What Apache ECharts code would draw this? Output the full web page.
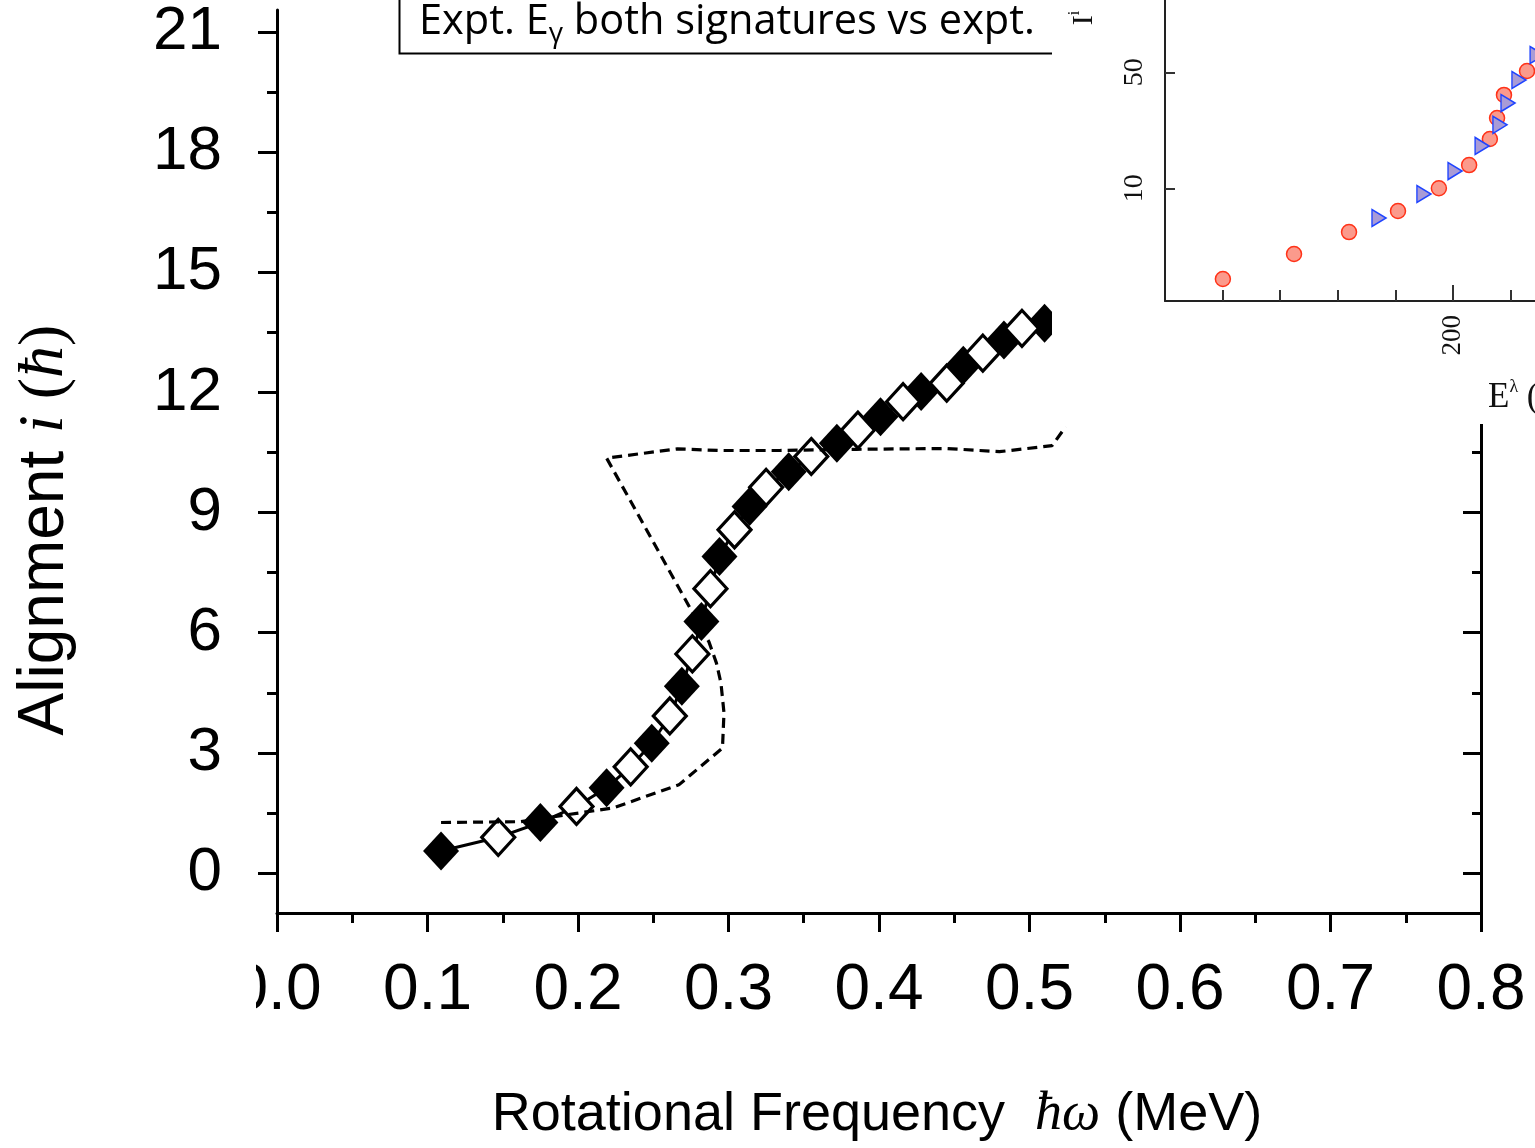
<!DOCTYPE html>
<html>
<head>
<meta charset="utf-8">
<script src="https://cdn.jsdelivr.net/npm/echarts@6/dist/echarts.min.js"></script>
<style>
html, body { margin: 0; padding: 0; background: #fff; }
#main { width: 1535px; height: 1148px; }
</style>
</head>
<body>
<div id="main"></div>
<script>
// alignment vs rotational frequency, filled diamonds (one signature)
let sigFilled = [
    [0.109, 0.55], [0.175, 1.26], [0.219, 2.13], [0.249, 3.24], [0.269, 4.66],
    [0.282, 6.28], [0.294, 7.90], [0.314, 9.15], [0.340, 10.02], [0.372, 10.73],
    [0.401, 11.39], [0.428, 12.02], [0.456, 12.68], [0.483, 13.31], [0.510, 13.73]
];
// open diamonds (other signature)
let sigOpen = [
    [0.147, 0.89], [0.199, 1.66], [0.235, 2.65], [0.261, 3.92], [0.276, 5.47],
    [0.288, 7.10], [0.304, 8.57], [0.325, 9.63], [0.355, 10.40], [0.386, 11.06],
    [0.416, 11.77], [0.445, 12.23], [0.469, 12.98], [0.495, 13.60]
];
// dashed curve
let theory = [
    [0.109, 1.26], [0.162, 1.28], [0.201, 1.50], [0.223, 1.62], [0.267, 2.20],
    [0.296, 3.12], [0.297, 4.00], [0.295, 4.74], [0.292, 5.24], [0.287, 5.77],
    [0.219, 10.36], [0.266, 10.59], [0.294, 10.55], [0.334, 10.55], [0.385, 10.58],
    [0.445, 10.60], [0.480, 10.52], [0.515, 10.67], [0.524, 11.14]
];
// inset points
let insetCircles = [
    [120.1, 2.84], [144.8, 4.02], [163.9, 5.45], [180.9, 7.30], [195.1, 10.0],
    [205.6, 13.8], [212.8, 19.8], [215.3, 26.5], [217.7, 36.5], [225.7, 50.9]
];
let insetTriangles = [
    [174.3, 6.62], [189.9, 9.24], [200.7, 12.7], [210.1, 18.0], [216.3, 24.1],
    [219.1, 32.6], [222.9, 44.9], [229.2, 63.5]
];

let yMajor = [0, 3, 6, 9, 12, 15, 18, 21];
let yMinor = [1.5, 4.5, 7.5, 10.5, 13.5, 16.5, 19.5];
let insetXMinor = [120, 140, 160, 180, 220];
let insetXMajor = [200];
let insetYTicks = [10, 50];

// solid line joins both signatures in order of frequency
let allExpt = sigFilled.concat(sigOpen).sort(function (a, b) { return a[0] - b[0]; });

let sans = 'Liberation Sans';
let serif = 'Liberation Serif';

let insetYMin = 2.094, insetYMax = 545.4;
let insetXMax = 100 + 400 / 2.88;

let option = {
    animation: false,
    backgroundColor: '#fff',
    grid: [
        { left: 277, top: 10, width: 1204, height: 903, outerBoundsMode: 'none', containLabel: false },
        { left: 1165, top: -100, width: 400, height: 401, outerBoundsMode: 'none', containLabel: false }
    ],
    xAxis: [
        {
            gridIndex: 0, type: 'value', min: 0, max: 0.8, interval: 0.1, position: 'bottom',
            axisLine: { onZero: false, lineStyle: { color: '#000', width: 3 } },
            axisTick: { length: 19, lineStyle: { color: '#000', width: 3 } },
            minorTick: { show: true, splitNumber: 2, length: 10, lineStyle: { color: '#000', width: 3 } },
            splitLine: { show: false },
            axisLabel: {
                fontFamily: sans, fontSize: 64, color: '#000', margin: 46,
                formatter: function (v) { return v.toFixed(1); }
            }
        },
        {
            gridIndex: 1, type: 'value', min: 100, max: insetXMax, position: 'bottom', z: 30,
            axisLine: { onZero: false, lineStyle: { color: '#222', width: 2 } },
            axisTick: { inside: true, length: 11, customValues: insetXMinor, lineStyle: { color: '#333', width: 2 } },
            axisLabel: { show: false },
            splitLine: { show: false }
        },
        {
            gridIndex: 1, type: 'value', min: 100, max: insetXMax, position: 'bottom', z: 30,
            axisLine: { show: false, onZero: false },
            axisTick: { inside: true, length: 16, customValues: insetXMajor, lineStyle: { color: '#333', width: 2 } },
            axisLabel: {
                customValues: insetXMajor, rotate: 90, margin: 14,
                fontFamily: serif, fontSize: 27, color: '#111'
            },
            splitLine: { show: false }
        }
    ],
    yAxis: [
        {
            gridIndex: 0, type: 'value', min: -1, max: 21.55, position: 'left',
            axisLine: { onZero: false, lineStyle: { color: '#000', width: 3 } },
            axisTick: { length: 19, customValues: yMajor, lineStyle: { color: '#000', width: 3 } },
            axisLabel: { customValues: yMajor, fontFamily: sans, fontSize: 62, color: '#000', margin: 55 },
            splitLine: { show: false }
        },
        {
            gridIndex: 0, type: 'value', min: -1, max: 21.55, position: 'left',
            axisLine: { show: false, onZero: false },
            axisTick: { length: 10, customValues: yMinor, lineStyle: { color: '#000', width: 3 } },
            axisLabel: { show: false },
            splitLine: { show: false }
        },
        {
            gridIndex: 0, type: 'value', min: -1, max: 21.55, position: 'right',
            axisLine: { onZero: false, lineStyle: { color: '#000', width: 3 } },
            axisTick: { inside: true, length: 18, customValues: yMajor, lineStyle: { color: '#000', width: 3 } },
            axisLabel: { show: false },
            splitLine: { show: false }
        },
        {
            gridIndex: 0, type: 'value', min: -1, max: 21.55, position: 'right',
            axisLine: { show: false, onZero: false },
            axisTick: { inside: true, length: 9, customValues: yMinor, lineStyle: { color: '#000', width: 3 } },
            axisLabel: { show: false },
            splitLine: { show: false }
        },
        {
            gridIndex: 1, type: 'log', min: insetYMin, max: insetYMax, position: 'left', z: 30,
            axisLine: { onZero: false, lineStyle: { color: '#222', width: 2 } },
            axisTick: { show: false },
            axisLabel: { show: false },
            splitLine: { show: false }
        },
        {
            // tick/label axis of the inset, laid out in decades
            gridIndex: 1, type: 'value', min: Math.log10(insetYMin), max: Math.log10(insetYMax), position: 'left', z: 30,
            axisLine: { show: false, onZero: false },
            axisTick: { inside: true, length: 10, customValues: insetYTicks.map(Math.log10), lineStyle: { color: '#333', width: 2 } },
            axisLabel: {
                customValues: insetYTicks.map(Math.log10), rotate: 90, margin: 16,
                fontFamily: serif, fontSize: 28, color: '#111',
                formatter: function (v) { return Math.round(Math.pow(10, v)); }
            },
            splitLine: { show: false }
        }
    ],
    series: [
        {
            type: 'line', xAxisIndex: 0, yAxisIndex: 0, data: allExpt,
            symbol: 'none', lineStyle: { color: '#000', width: 3 }, z: 2
        },
        {
            type: 'scatter', xAxisIndex: 0, yAxisIndex: 0, data: sigFilled,
            symbol: 'diamond', symbolSize: [36, 39], itemStyle: { color: '#000', opacity: 1 }, z: 3
        },
        {
            type: 'scatter', xAxisIndex: 0, yAxisIndex: 0, data: sigOpen,
            symbol: 'diamond', symbolSize: [33, 36],
            itemStyle: { color: '#fff', borderColor: '#000', borderWidth: 3.2, opacity: 1 }, z: 4
        },
        {
            type: 'line', xAxisIndex: 0, yAxisIndex: 0, data: theory,
            symbol: 'none', lineStyle: { color: '#000', width: 3.2, type: [10, 6] }, z: 5
        },
        {
            type: 'scatter', xAxisIndex: 1, yAxisIndex: 4, data: insetCircles, clip: false,
            symbol: 'circle', symbolSize: 15,
            itemStyle: { color: '#fb9a8c', borderColor: '#ff3218', borderWidth: 1.5, opacity: 1 }, z: 31
        },
        {
            type: 'scatter', xAxisIndex: 1, yAxisIndex: 4, data: insetTriangles, clip: false,
            symbol: 'triangle', symbolSize: [17, 14], symbolRotate: -90,
            itemStyle: { color: '#a99bd6', borderColor: '#1f44ff', borderWidth: 1.5, opacity: 1 }, z: 32
        }
    ],
    graphic: [
        {
            type: 'rect', z: 15,
            shape: { x: 399.5, y: -10, width: 720, height: 63.5 },
            style: { fill: '#fff', stroke: '#000', lineWidth: 2 }
        },
        {
            type: 'text', z: 16, x: 419, y: 22,
            style: {
                text: '{a|Expt. E}{s|γ}{a| both signatures vs expt.}',
                verticalAlign: 'middle', align: 'left',
                rich: {
                    a: { fontFamily: 'Open Sans', fontSize: 41.5, fill: '#000', lineHeight: 52 },
                    s: { fontFamily: 'Open Sans', fontSize: 28, fill: '#000', lineHeight: 28, verticalAlign: 'bottom' }
                }
            }
        },
        {
            type: 'rect', z: 20,
            shape: { x: 1052, y: 0, width: 483, height: 424 },
            style: { fill: '#fff' }
        },
        {
            type: 'text', z: 33, x: 1084, y: 18, rotation: Math.PI / 2,
            style: {
                text: '{a|I}{s|i}', align: 'center', verticalAlign: 'middle',
                rich: {
                    a: { fontFamily: serif, fontSize: 30, fill: '#111', lineHeight: 34 },
                    s: { fontFamily: serif, fontSize: 16, fill: '#111', lineHeight: 16, verticalAlign: 'top' }
                }
            }
        },
        {
            type: 'text', z: 33, x: 1488, y: 398,
            style: {
                text: '{a|E}{s|λ}{a| (keV)}', align: 'left', verticalAlign: 'middle',
                rich: {
                    a: { fontFamily: serif, fontSize: 35, fill: '#111', lineHeight: 40 },
                    s: { fontFamily: serif, fontSize: 18, fill: '#111', lineHeight: 18, verticalAlign: 'top' }
                }
            }
        },
        {
            type: 'text', z: 10, x: 45, y: 530, rotation: Math.PI / 2,
            style: {
                text: '{a|Alignment }{i|i}{p| (}{i|ħ}{p|)}', align: 'center', verticalAlign: 'middle',
                rich: {
                    a: { fontFamily: sans, fontSize: 64, fill: '#000' },
                    i: { fontFamily: serif, fontStyle: 'italic', fontSize: 64, fill: '#000' },
                    p: { fontFamily: serif, fontSize: 64, fill: '#000' }
                }
            }
        },
        {
            type: 'text', z: 10, x: 877, y: 1115,
            style: {
                text: '{a|Rotational Frequency  }{i|ħω}{a| (MeV)}', align: 'center', verticalAlign: 'middle',
                rich: {
                    a: { fontFamily: sans, fontSize: 54, fill: '#000' },
                    i: { fontFamily: serif, fontStyle: 'italic', fontSize: 54, fill: '#000' }
                }
            }
        },
        {
            // the left edge of the frequency labels is cut off in the figure
            type: 'rect', z: 40,
            shape: { x: 0, y: 940, width: 256, height: 90 },
            style: { fill: '#fff' }
        }
    ]
};

let chart = echarts.init(document.getElementById('main'));
chart.setOption(option);
</script>
</body>
</html>
